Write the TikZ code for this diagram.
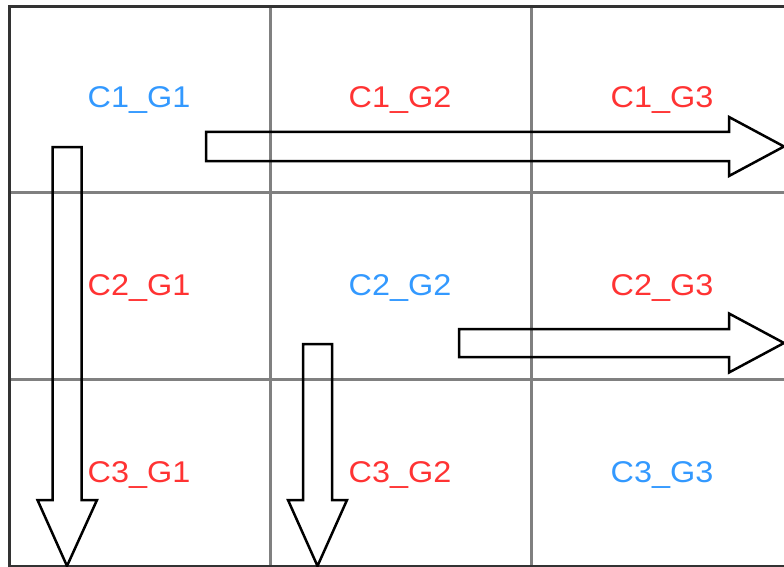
\documentclass[tikz,border=0pt]{standalone}
\usepackage{fontspec}
\setmainfont[FakeStretch=1.08]{Liberation Sans}
\definecolor{cellblue}{RGB}{51,153,255}
\definecolor{cellred}{RGB}{255,51,51}
\definecolor{gridgray}{RGB}{128,128,128}
\definecolor{framedark}{RGB}{51,51,51}
\begin{document}
\begin{tikzpicture}[x=1pt,y=-1pt,
  gridline/.style={draw=gridgray,line width=3pt},
  frameline/.style={draw=framedark,line width=3pt},
  blockarrow/.style={draw=black,line width=2.5pt,miter limit=10},
  celltext/.style={font=\fontsize{30}{35}\selectfont,inner sep=0pt,anchor=base},
  diag/.style={celltext,text=cellblue},
  off/.style={celltext,text=cellred}]
\useasboundingbox (0,0) rectangle (784,567);
\clip (0,0) rectangle (784,567);
% cell grid
\draw[gridline] (270.5,6.5) -- (270.5,567) (531.5,6.5) -- (531.5,567);
\draw[gridline] (9.5,192) -- (792,192) (9.5,379.5) -- (792,379.5);
% outer frame
\draw[frameline] (9.5,566) -- (9.5,6.5) -- (792,6.5) -- (792,566) -- cycle;
% cell labels (placed on their baselines)
\node[diag] (c1g1) at (139,108) {C1\_G1};
\node[off]  (c1g2) at (400,108) {C1\_G2};
\node[off]  (c1g3) at (662,108) {C1\_G3};
\node[off]  (c2g1) at (139,295) {C2\_G1};
\node[diag] (c2g2) at (400,295) {C2\_G2};
\node[off]  (c2g3) at (662,295) {C2\_G3};
\node[off]  (c3g1) at (139,482) {C3\_G1};
\node[off]  (c3g2) at (400,482) {C3\_G2};
\node[diag] (c3g3) at (662,482) {C3\_G3};
% block arrows
\draw[blockarrow] (206,132) -- (729,132) -- (729,117) -- (784,146.5)
  -- (729,176) -- (729,161) -- (206,161) -- cycle;
\draw[blockarrow] (459,329) -- (729,329) -- (729,313.5) -- (784,343)
  -- (729,372.5) -- (729,357) -- (459,357) -- cycle;
\draw[blockarrow] (52.5,147) -- (81.5,147) -- (81.5,500) -- (97,500)
  -- (67,566) -- (37.5,500) -- (52.5,500) -- cycle;
\draw[blockarrow] (303,344) -- (332,344) -- (332,500) -- (347,500)
  -- (317.5,566) -- (288,500) -- (303,500) -- cycle;
\end{tikzpicture}
\end{document}
